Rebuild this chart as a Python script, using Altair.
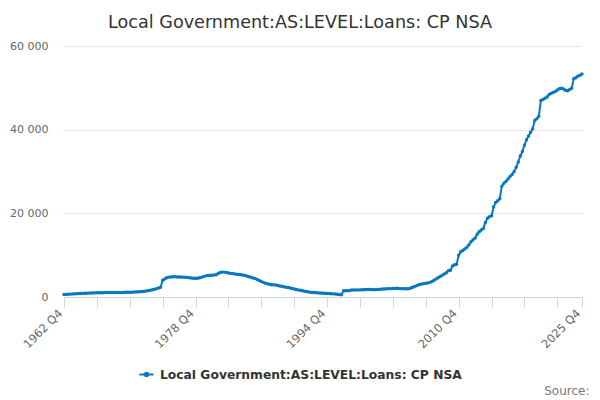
import altair as alt
import pandas as pd

series_name = "Local Government:AS:LEVEL:Loans: CP NSA"
start_year = 1962  # first point is 1962 Q4

values = [
    600,
    630, 660, 690, 720,        # 1963
    750, 780, 810, 840,        # 1964
    870, 890, 910, 930,        # 1965
    950, 970, 990, 1010,       # 1966
    1020, 1030, 1040, 1050,    # 1967
    1060, 1070, 1070, 1080,    # 1968
    1080, 1090, 1090, 1100,    # 1969
    1100, 1110, 1120, 1130,    # 1970
    1150, 1170, 1200, 1230,    # 1971
    1270, 1320, 1380, 1440,    # 1972
    1520, 1610, 1720, 1850,    # 1973
    2000, 2150, 2350, 4000,    # 1974
    4300, 4600, 4750, 4800,    # 1975
    4850, 4850, 4800, 4800,    # 1976
    4780, 4750, 4700, 4650,    # 1977
    4600, 4550, 4500, 4480,    # 1978
    4500, 4600, 4750, 4900,    # 1979
    5050, 5150, 5200, 5200,    # 1980
    5250, 5300, 5600, 5850,    # 1981
    5950, 5950, 5850, 5750,    # 1982
    5650, 5600, 5500, 5450,    # 1983
    5400, 5300, 5250, 5150,    # 1984
    5000, 4850, 4700, 4550,    # 1985
    4400, 4200, 3950, 3700,    # 1986
    3500, 3300, 3150, 3050,    # 1987
    2950, 2900, 2850, 2750,    # 1988
    2650, 2550, 2450, 2350,    # 1989
    2250, 2150, 2050, 1900,    # 1990
    1800, 1700, 1600, 1500,    # 1991
    1400, 1300, 1200, 1150,    # 1992
    1100, 1050, 1000, 980,     # 1993
    950, 920, 880, 850,        # 1994
    820, 780, 750, 700,        # 1995
    650, 600, 550, 1500,       # 1996
    1500, 1480, 1550, 1650,    # 1997
    1650, 1700, 1700, 1700,    # 1998
    1720, 1750, 1780, 1800,    # 1999
    1800, 1780, 1750, 1780,    # 2000
    1800, 1850, 1900, 1900,    # 2001
    1950, 2000, 2000, 2050,    # 2002
    2050, 2100, 2050, 2000,    # 2003
    2000, 1950, 1950, 2000,    # 2004
    2200, 2400, 2600, 2800,    # 2005
    3000, 3100, 3200, 3300,    # 2006
    3350, 3500, 3700, 4000,    # 2007
    4300, 4600, 4900, 5200,    # 2008
    5500, 5800, 6300, 6400,    # 2009
    7400, 7700, 7800, 10000,   # 2010
    10800, 11100, 11500, 11900,  # 2011
    12500, 13200, 13700, 14100,  # 2012
    15000, 15600, 16000, 16400,  # 2013
    17800, 18800, 19200, 19400,  # 2014
    21500, 22600, 23000, 23500,  # 2015
    26500, 27200, 27600, 28200,  # 2016
    28800, 29300, 30000, 31000,  # 2017
    32300, 33700, 34800, 36300,  # 2018
    37600, 38500, 39400, 40200,  # 2019
    42200, 42600, 43200, 47000,  # 2020
    47200, 47500, 47800, 48400,  # 2021
    48700, 48900, 49100, 49500,  # 2022
    49800, 49900, 49700, 49400,  # 2023
    49300, 49600, 49900, 52200,  # 2024
    52400, 52800, 53000, 53300,  # 2025
]

y_ticks = [0, 20000, 40000, 60000]

n = len(values)
df = pd.DataFrame({
    "i": list(range(n)),
    "value": values,
    "series": [series_name] * n,
})

x_tick_vals = list(range(0, n - 1, 16)) + [n - 1]
last = n - 1

x_label_expr = (
    "(datum.value % 64 == 0 || datum.value == " + str(last) + ") ? "
    "(toString(" + str(start_year) + " + floor((datum.value + 3) / 4)) + ' Q4') : ''"
)

line_color = "#0a78be"

line = alt.Chart(df).mark_line(
    strokeWidth=2,
    point=alt.OverlayMarkDef(size=12, filled=True, color=line_color),
).encode(
    x=alt.X(
        "i:Q",
        scale=alt.Scale(domain=[0, last], nice=False, zero=False),
        axis=alt.Axis(
            values=x_tick_vals,
            labelExpr=x_label_expr,
            labelAngle=-45,
            labelAlign="right",
            labelBaseline="bottom",
            labelPadding=8,
            labelFont="DejaVu Sans",
            labelFontSize=11.5,
            labelColor="#666666",
            tickSize=10,
            tickColor="#ccd6eb",
            domainColor="#ccd6eb",
            grid=False,
            labelOverlap=False,
            labelFlush=False,
            title="Source:",
            titleFont="DejaVu Sans",
            titleFontSize=12,
            titleFontWeight="normal",
            titleColor="#777777",
            titleAlign="right",
            titleAnchor="end",
            titleX=525,
            titleY=97,
            titleBaseline="alphabetic",
        ),
    ),
    y=alt.Y(
        "value:Q",
        scale=alt.Scale(domain=[0, 60000], nice=False),
        axis=alt.Axis(
            values=y_ticks,
            labelExpr="replace(format(datum.value, ','), ',', ' ')",
            labelFont="DejaVu Sans",
            labelFontSize=11,
            labelColor="#666666",
            ticks=False,
            tickSize=0,
            labelPadding=16,
            domain=False,
            grid=True,
            gridColor="#e6e6e6",
            title=None,
        ),
    ),
    color=alt.Color(
        "series:N",
        scale=alt.Scale(range=[line_color]),
        legend=alt.Legend(
            title=None,
            orient="none",
            legendX=74,
            legendY=320,
            symbolType="M-1,0L1,0M0.25,0A0.25,0.25,0,1,1,-0.25,0A0.25,0.25,0,1,1,0.25,0Z",
            symbolSize=200,
            symbolStrokeWidth=2,
            symbolFillColor=line_color,
            labelFont="DejaVu Sans",
            labelFontSize=12.3,
            labelFontWeight="bold",
            labelColor="#333333",
            labelOffset=5,
            labelLimit=500,
        ),
    ),
)

chart = line.properties(
    width=518,
    height=251,
    autosize=alt.AutoSizeParams(type="none"),
    padding={"left": 56, "top": 38, "right": 10, "bottom": 100},
    title=alt.TitleParams(
        series_name,
        font="DejaVu Sans",
        fontSize=17.6,
        fontWeight="normal",
        color="#333333",
        anchor="middle",
        dx=-23,
        offset=8,
    ),
).configure_view(stroke=None)

chart.save("out.html", embed_options={"renderer": "svg", "actions": False})
